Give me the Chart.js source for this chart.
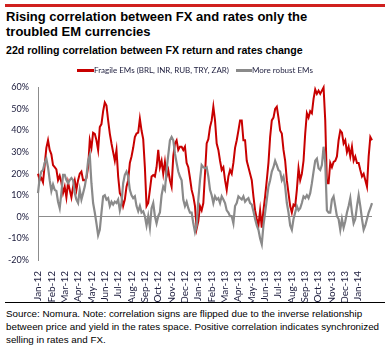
<!DOCTYPE html>
<html>
<head>
<meta charset="utf-8">
<script src="https://cdn.jsdelivr.net/npm/chart.js@4/dist/chart.umd.min.js"></script>
<style>
  html, body { margin: 0; padding: 0; background: #fff; }
  #page { position: relative; width: 392px; height: 347px; overflow: hidden;
          font-family: "Liberation Sans", Arial, sans-serif; color: #000; }
  .topbar { position: absolute; left: 5px; top: 4px; width: 380px; height: 3px; background: #d0201e; }
  .title { position: absolute; left: 6px; top: 8.5px; font-weight: bold; font-size: 13px;
           line-height: 15.3px; white-space: nowrap; }
  .subtitle { position: absolute; left: 6px; top: 44px; font-weight: bold; font-size: 10.6px;
              line-height: 13px; white-space: nowrap; }
  .swatch { position: absolute; height: 3px; top: 69px; }
  .lgtext { position: absolute; top: 65px; font-family: Lato, sans-serif; font-size: 8px;
            line-height: 10px; color: #1c1c3c; white-space: nowrap; }
  .rule { position: absolute; left: 5px; top: 302px; width: 380px; height: 1px; background: #000; }
  .source { position: absolute; left: 6px; top: 308px; font-size: 9.8px; line-height: 12.8px;
            white-space: nowrap; }
  #chart { position: absolute; left: 0; top: 73px; }
</style>
</head>
<body>
<div id="page">
  <div class="topbar"></div>
  <div class="title">Rising correlation between FX and rates only the<br>troubled EM currencies</div>
  <div class="subtitle">22d rolling correlation between FX return and rates change</div>

  <canvas id="chart" width="392" height="229"></canvas>

  <div class="swatch" style="left:77px;width:17px;background:#c80000"></div>
  <div class="lgtext" style="left:94px">Fragile EMs (BRL, INR, RUB, TRY, ZAR)</div>
  <div class="swatch" style="left:236px;width:16px;background:#8a8a8a"></div>
  <div class="lgtext" style="left:252px">More robust EMs</div>

  <div class="rule"></div>
  <div class="source">Source: Nomura. Note: correlation signs are flipped due to the inverse relationship<br>between price and yield in the rates space. Positive correlation indicates synchronized<br>selling in rates and FX.</div>
</div>

<script>
// Month tick labels along the time axis (one per month, Jan-12 .. Jan-14)
const monthLabels = [
  'Jan-12','Feb-12','Mar-12','Apr-12','May-12','Jun-12','Jul-12','Aug-12','Sep-12','Oct-12','Nov-12','Dec-12',
  'Jan-13','Feb-13','Mar-13','Apr-13','May-13','Jun-13','Jul-13','Aug-13','Sep-13','Oct-13','Nov-13','Dec-13',
  'Jan-14'
];

// Observations are evenly spaced in time; spacing expressed in months from 2 Jan 2012
const stepMonths = 0.1252;

// 22-day rolling correlation (%), fragile EMs (BRL, INR, RUB, TRY, ZAR)
const fragile = [
  20, 17, 18, 16, 24, 32, 35.5, 31, 29, 24,
  23, 22, 17, 19, 16, 11, 14, 9, 16, 12.5,
  9, 14, 17, 12.5, 17, 20, 21, 17, 17, 18,
  23, 35.5, 32, 39, 38.5, 35.5, 31, 41.6, 43, 49,
  53, 51.6, 44.7, 38.6, 34, 30, 26, 31, 18.7, 11,
  9.5, 5, 8, 14, 17, 25, 28, 32, 37, 38.6,
  39, 45.5, 40, 36, 23, 5, 6.4, 12.5, 18.7, 19.4,
  18.7, 23, 31, 23, 26, 20, 25.5, 18.7, 21.7, 17,
  14, 28, 34, 35.5, 31, 32.5, 32.5, 31, 32.5, 25,
  23, 18, 12.5, 9.5, 5, -5.5, -2, 5,
  3, 6.4, 20, 34, 36, 41.6, 44.7, 51, 44.7, 34,
  31, 26, 21.7, 23, 17, 12.5, 18.7, 21.7, 20, 25,
  32, 35.5, 40, 44.7, 44.7, 35.5, 35.5, 26, 23, 20,
  17, 9.5, 3, -1, -4, 3, -5, 3, 9.5, 17,
  25, 37, 44.7, 46, 50, 51, 46, 40, 38.6, 31,
  26, 17, 11, 5, 2, 5.7, 5, 12.5, 22.5, 17,
  20, 26, 38.6, 48, 46, 49, 48, 54.7, 59, 57,
  58.5, 57, 58.5, 60, 44.7, 15.6, 15.6, 25, 23, 25.5,
  26, 28, 35.5, 40, 39, 34, 35.5, 30, 32.5, 28,
  32.5, 26, 28, 25, 25, 21.7, 18.7, 20, 17, 14,
  28, 37, 35.5
];

// 22-day rolling correlation (%), more robust EMs
const robust = [
  11, 18, 21, 21.7, 25, 27, 23, 17, 12, 15,
  12.5, 12, 7, 4, 11, 19.5, 19.5, 17, 15.6, 17,
  18, 17, 11, 8, 6.4, 12.5, 8, 11, 14, 18.7,
  26, 28.6, 15.6, 6.4, 2, -3, -8.5, -6, 2, 9.5,
  10, 8, 8.7, 5, 7, 5.7, 7, 6.4, 8, 3,
  6.4, 15.6, 19.5, 21, 18.7, 12.5, 10, 8.7, 9.5, 5,
  2.6, 5, 2, 2.6, 0.3, -4, 0.3, -5, 4, 6.4,
  0.3, -3, 0.3, 2, 10, 14, 12.5, 21.7, 28.6, 35.5,
  37, 35.5, 29.4, 25, 21, 18.7, 17, 8, 5, 7,
  4, 2, 2, -3, -7, -4, 8, 17,
  24, 23, 22.5, 23, 18.7, 12.5, 10, 6.4, 9.5, 8,
  8.7, 6.4, 9.5, 8, 6.4, 3, 2, 0.3, 0.3, -3,
  5, 6.4, 9.5, 8.7, 8, 9.5, 7, 8, 8.7, 6.4,
  5.7, 2.6, -1, -4, -6, -10, -12.7, -4, 2, 8,
  14, 17, 21, 23, 26, 24, 21.7, 21, 17, 18.7,
  14, 6.4, 2, -4, -6, -1, 2, 5, 3, 4,
  6.4, 9.5, 8.7, 10, 8.7, 11, 15.6, 21, 26, 27,
  22.5, 21.7, 24, 32.5, 25, 3, 2, 2, 8, 9.5,
  5, 0.3, -1, -6, -1, -5, -2, 2, 5, 8.7,
  2, -3, -1, 5, 10, 5, -1, -6, -4, -1,
  2, 4, 6.4
];

const toPoints = vals => vals.map((v, i) => ({ x: i * stepMonths, y: v }));
const lastX = (fragile.length - 1) * stepMonths;

new Chart(document.getElementById('chart').getContext('2d'), {
  type: 'line',
  data: {
    datasets: [
      {
        label: 'Fragile EMs (BRL, INR, RUB, TRY, ZAR)',
        data: toPoints(fragile),
        borderColor: '#c80000',
        borderWidth: 2,
        pointRadius: 0,
        tension: 0,
        order: 2,
        clip: 4
      },
      {
        label: 'More robust EMs',
        data: toPoints(robust),
        borderColor: '#8a8a8a',
        borderWidth: 2.2,
        pointRadius: 0,
        tension: 0,
        order: 1,
        clip: 4
      }
    ]
  },
  options: {
    responsive: false,
    animation: false,
    devicePixelRatio: 1,
    layout: { padding: { top: 0, right: 20, left: 0, bottom: 0 } },
    plugins: { legend: { display: false }, tooltip: { enabled: false } },
    scales: {
      x: {
        type: 'linear',
        min: 0,
        max: lastX,
        afterBuildTicks: s => { s.ticks = monthLabels.map((_, i) => ({ value: i })); },
        afterFit: s => { s.height = 42; },
        grid: { display: false },
        border: { display: false },
        ticks: {
          autoSkip: false,
          minRotation: 90,
          maxRotation: 90,
          padding: 3,
          color: '#202040',
          font: { family: 'Lato', size: 10 },
          callback: v => monthLabels[Math.round(v)]
        }
      },
      y: {
        min: -20,
        max: 60,
        afterFit: s => { s.width = 38; },
        ticks: {
          stepSize: 10,
          padding: 9,
          color: '#202040',
          font: { family: 'Lato', size: 9 },
          callback: v => v + '%'
        },
        grid: {
          drawTicks: false,
          lineWidth: 1,
          color: c => (c.tick && c.tick.value === 0) ? '#8c8c8c' : 'rgba(0,0,0,0)'
        },
        border: { display: true, color: '#8c8c8c', width: 1 }
      }
    }
  }
});
</script>
</body>
</html>
